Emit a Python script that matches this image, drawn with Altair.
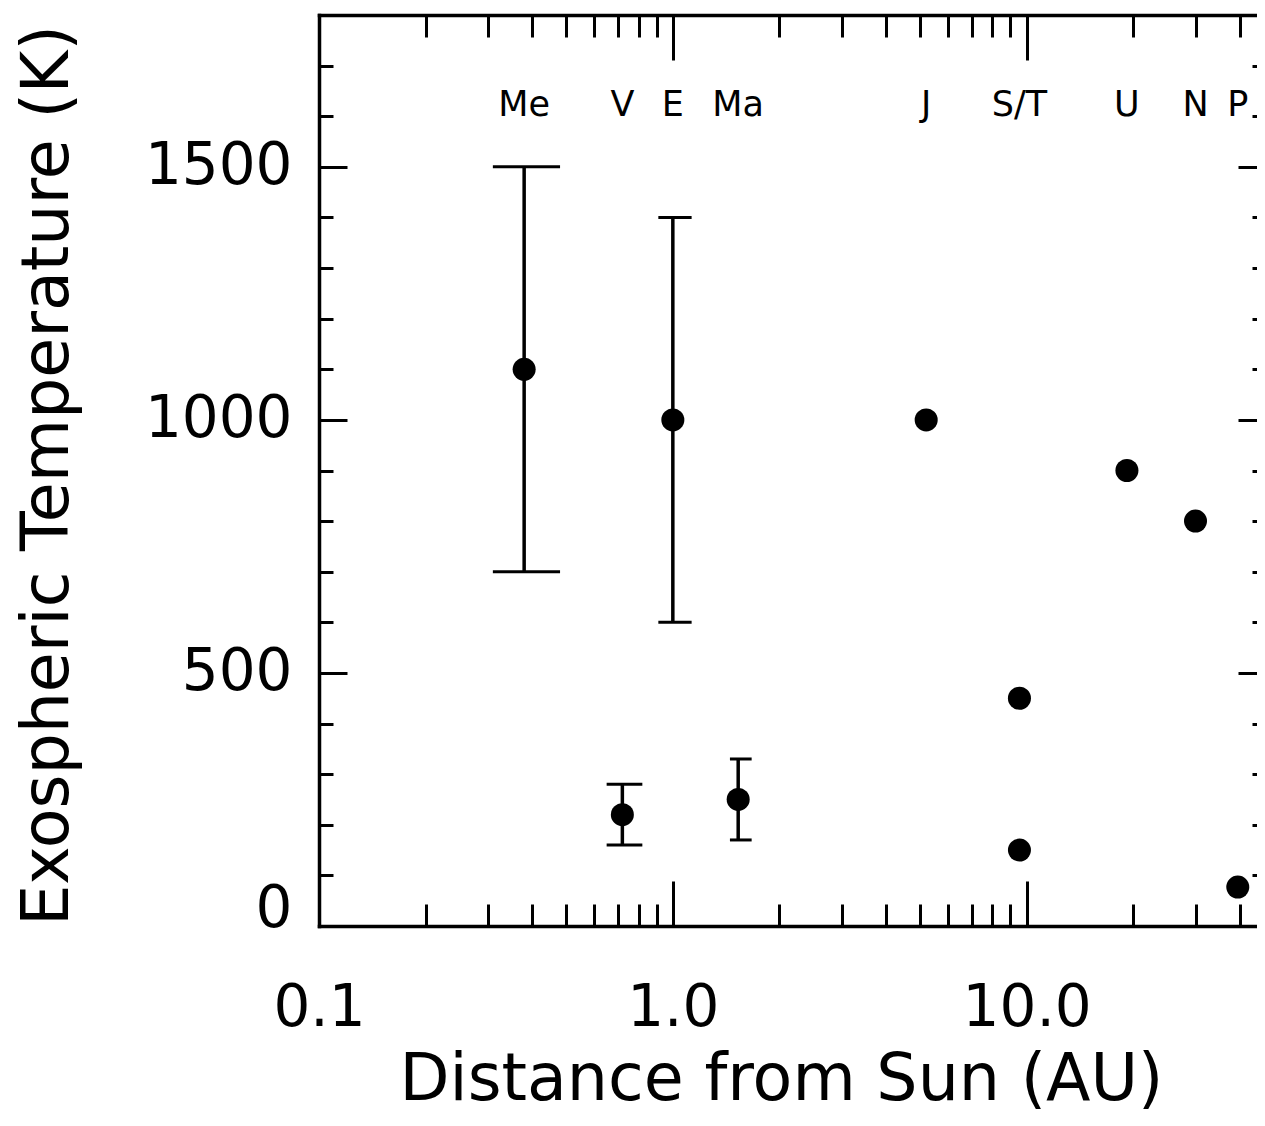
import altair as alt
import pandas as pd

# ---- data ----
planet = ["Me", "V", "E", "Ma", "J", "S", "T", "U", "N", "P"]
dist = [0.38, 0.72, 1.0, 1.53, 5.2, 9.54, 9.54, 19.2, 30.0, 39.5]
temp = [1100, 220, 1000, 250, 1000, 450, 150, 900, 800, 77]

err_planet = ["Me", "V", "E", "Ma"]
err_dist = [0.38, 0.72, 1.0, 1.53]
err_lo = [700, 160, 600, 170]
err_hi = [1500, 280, 1400, 330]
cap_left = [0.31, 0.65, 0.91, 1.45]
cap_right = [0.48, 0.82, 1.13, 1.67]

label_text = ["Me", "V", "E", "Ma", "J", "S/T", "U", "N", "P"]
label_dist = [0.38, 0.72, 1.0, 1.53, 5.2, 9.54, 19.2, 30.0, 39.5]

x_major = [1, 10]
x_label_vals = [0.1, 1, 10]
x_minor = [0.2, 0.3, 0.4, 0.5, 0.6, 0.7, 0.8, 0.9,
           2, 3, 4, 5, 6, 7, 8, 9, 20, 30, 40, 50]
y_major = [0, 500, 1000, 1500]
y_minor = [100, 200, 300, 400, 600, 700, 800, 900, 1100, 1200, 1300, 1400,
           1600, 1700, 1800]

pts = pd.DataFrame({"planet": planet, "dist": dist, "temp": temp})
err = pd.DataFrame({"planet": err_planet, "dist": err_dist, "lo": err_lo,
                    "hi": err_hi, "cl": cap_left, "cr": cap_right})
lab = pd.DataFrame({"label": label_text, "dist": label_dist})

W, H = 938, 911          # visible plot area (page is 1249 px wide)
FULLW = 955              # full x range (right frame lies just off the page)
RIGHT_AXIS_POS = 947
FONT = "DejaVu Sans"

xs = alt.Scale(type="log", domain=[0.1, 50], range=[0, FULLW], nice=False)
ys = alt.Scale(domain=[0, 1800], nice=False, zero=False)


def tick_layer(xvals, xorient, xsize, yvals, yorient, ysize, yoffset, xdomain=False):
    return alt.Chart(pts).mark_point(opacity=0).encode(
        x=alt.X("dist:Q", scale=xs, axis=alt.Axis(
            orient=xorient, offset=-H, values=xvals, tickSize=xsize, tickWidth=3,
            tickColor="black", labels=False, domain=xdomain, domainWidth=3.5,
            domainColor="black", domainCap="square", grid=False, title=None)),
        y=alt.Y("temp:Q", scale=ys, axis=alt.Axis(
            orient=yorient, offset=yoffset, values=yvals, tickSize=ysize, tickWidth=3,
            tickColor="black", labels=False, domain=False, grid=False, title=None)),
    )


base = alt.Chart(pts).mark_point(opacity=0).encode(
    x=alt.X("dist:Q", scale=xs, axis=alt.Axis(
        orient="bottom", values=x_label_vals,
        labelExpr="format(datum.value, '.1f')",
        ticks=False, tickSize=0, labelPadding=53, labelFont=FONT, labelFontSize=58,
        labelColor="black", labelFlush=False, labelOverlap=False, labelBound=False,
        domain=True, domainWidth=3.5, domainColor="black", domainCap="square",
        grid=False, title="Distance from Sun (AU)", titleFont=FONT,
        titleFontSize=65, titleFontWeight="normal", titleColor="black",
        titleX=462, titleY=173, titleBaseline="alphabetic", titleAlign="center")),
    y=alt.Y("temp:Q", scale=ys, axis=alt.Axis(
        orient="left", values=y_major, format="d", ticks=False, tickSize=0,
        labelPadding=27, labelFont=FONT, labelFontSize=58, labelColor="black",
        labelFlush=True, labelFlushOffset=12, labelOverlap=False, domain=True,
        domainWidth=3.5, domainColor="black", domainCap="square", grid=False,
        title="Exospheric Temperature (K)", titleFont=FONT, titleFontSize=65,
        titleFontWeight="normal", titleColor="black", titleAngle=270,
        titleX=-252, titleY=460, titleAlign="center", titleBaseline="alphabetic")),
)

t_bottom_major = tick_layer(x_major, "top", 45, y_major, "right", 28, -W)
t_bottom_minor = tick_layer(x_minor, "top", 22, y_minor, "right", 14, -W)
t_top_major = tick_layer(x_major, "bottom", 45, y_major, "left", 28,
                         -RIGHT_AXIS_POS, xdomain=True)
t_top_minor = tick_layer(x_minor, "bottom", 22, y_minor, "left", 14,
                         -RIGHT_AXIS_POS)

errbars = alt.Chart(err).mark_rule(color="black", strokeWidth=3.5).encode(
    x=alt.X("dist:Q", scale=xs, axis=None),
    y=alt.Y("lo:Q", scale=ys, axis=None),
    y2="hi:Q",
)
caps_lo = alt.Chart(err).mark_rule(color="black", strokeWidth=3).encode(
    x=alt.X("cl:Q", scale=xs, axis=None),
    x2="cr:Q",
    y=alt.Y("lo:Q", scale=ys, axis=None),
)
caps_hi = alt.Chart(err).mark_rule(color="black", strokeWidth=3).encode(
    x=alt.X("cl:Q", scale=xs, axis=None),
    x2="cr:Q",
    y=alt.Y("hi:Q", scale=ys, axis=None),
)
points = alt.Chart(pts).mark_circle(color="black", opacity=1, size=530).encode(
    x=alt.X("dist:Q", scale=xs, axis=None),
    y=alt.Y("temp:Q", scale=ys, axis=None),
)
labels = alt.Chart(lab).mark_text(
    font=FONT, fontSize=35, baseline="alphabetic", align="center", color="black"
).encode(
    x=alt.X("dist:Q", scale=xs, axis=None),
    y=alt.YDatum(1600, type="quantitative", scale=ys, axis=None),
    text="label:N",
)

chart = alt.layer(
    base, t_bottom_major, t_bottom_minor, t_top_major, t_top_minor,
    errbars, caps_lo, caps_hi, points, labels,
).resolve_axis(x="independent", y="independent").properties(
    width=W, height=H,
    autosize=alt.AutoSizeParams(type="none"),
    padding={"left": 311, "top": 7, "right": 0, "bottom": 192},
    background="white",
).configure_view(stroke=None)

chart.save("out.html", embed_options={"renderer": "svg", "actions": False})
